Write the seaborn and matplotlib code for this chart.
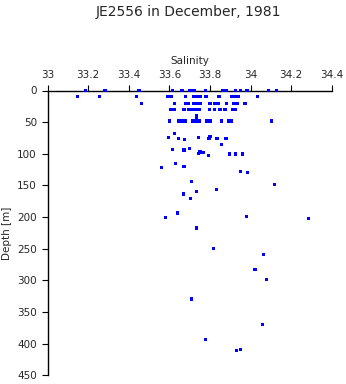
import matplotlib
matplotlib.use("Agg")
import matplotlib.pyplot as plt
import seaborn as sns
import pandas as pd

title = "JE2556 in December, 1981"
x_label = "Salinity"
y_label = "Depth [m]"
x_ticks = [33, 33.2, 33.4, 33.6, 33.8, 34, 34.2, 34.4]
x_tick_labels = ["33", "33.2", "33.4", "33.6", "33.8", "34", "34.2", "34.4"]
y_ticks = [0, 50, 100, 150, 200, 250, 300, 350, 400, 450]

# surface and near-surface levels
sal_0 = [33.186, 33.282, 33.450, 33.614, 33.662, 33.701, 33.721, 33.779, 33.861,
         33.879, 33.927, 33.950, 33.982, 34.087, 34.127]
dep_0 = [0] * len(sal_0)
sal_10 = [33.148, 33.254, 33.437, 33.593, 33.610, 33.680, 33.721, 33.736, 33.753,
          33.780, 33.844, 33.906, 33.923, 33.939, 34.033]
dep_10 = [10] * len(sal_10)
sal_20 = [33.461, 33.626, 33.679, 33.691, 33.721, 33.736, 33.753, 33.800, 33.822,
          33.839, 33.880, 33.918, 33.933, 33.972]
dep_20 = [20] * len(sal_20)
sal_30 = [33.608, 33.622, 33.672, 33.693, 33.709, 33.719, 33.731, 33.746, 33.796,
          33.823, 33.849, 33.874, 33.911, 33.923]
dep_30 = [30] * len(sal_30)
sal_50 = [33.733, 33.735, 33.599, 33.645, 33.659, 33.677, 33.716, 33.733, 33.748,
          33.783, 33.800, 33.857, 33.891, 33.903, 34.104]
dep_50 = [40, 45, 48, 48, 48, 48, 48, 48, 48, 48, 48, 48, 48, 48, 48]
# intermediate levels
sal_mid = [33.624, 33.594, 33.644, 33.673, 33.742, 33.800, 33.795, 33.834, 33.879,
           33.858, 33.614, 33.672, 33.698, 33.751, 33.742, 33.767, 33.792, 33.898,
           33.926, 33.959, 33.560, 33.631, 33.672, 33.949, 33.984]
dep_mid = [68, 74, 76, 77, 74, 73, 76, 76, 76,
           85, 93, 94, 91.5, 97, 100, 98.5, 102.6, 100.5,
           100.5, 100.5, 122, 115, 120.6, 128, 130]
# deep levels
sal_deep = [33.710, 34.117, 33.732, 33.668, 33.833, 33.703, 33.639, 33.580, 33.979,
            34.284, 33.732, 33.816, 34.065, 34.022, 34.077, 33.708, 34.058, 33.777,
            33.931, 33.949]
dep_deep = [143.7, 149, 159.6, 163.4, 156.4, 170.2, 193.4, 200.7, 199.1,
            202.3, 217.2, 249.8, 259.3, 283, 298.9, 329.6, 370.1, 392.9,
            411.3, 409.7]

salinity = sal_0 + sal_10 + sal_20 + sal_30 + sal_50 + sal_mid + sal_deep
depth = dep_0 + dep_10 + dep_20 + dep_30 + dep_50 + dep_mid + dep_deep
df = pd.DataFrame({"Salinity": salinity, "Depth": depth})

sns.set_style("white")
plt.rcParams["font.family"] = ["DejaVu Sans"]

fig = plt.figure(figsize=(3.46, 3.84), dpi=100)
ax = fig.add_axes([47.7 / 346, (384 - 375.3) / 384, 284 / 346, (375.3 - 90.5) / 384])

sns.scatterplot(data=df, x="Salinity", y="Depth", ax=ax, marker="s", s=5.5,
                color="#0000ff", edgecolor="none", linewidth=0, zorder=3,
                clip_on=False)

ax.set_xlim(33, 34.4)
ax.set_ylim(450, 0)
ax.xaxis.set_ticks_position("top")
ax.xaxis.set_label_position("top")
ax.set_xticks(x_ticks)
ax.set_xticklabels(x_tick_labels)
ax.set_yticks(y_ticks)
ax.set_xlabel(x_label, fontsize=7.5, labelpad=4)
ax.set_ylabel(y_label, fontsize=7.5, labelpad=4)
ax.tick_params(axis="both", which="major", length=4.3, width=0.8, color="black",
               labelsize=7.5, pad=3.5, direction="out")
ax.tick_params(axis="x", top=True, bottom=False)
ax.tick_params(axis="y", left=True, right=False)
for side in ["right", "bottom"]:
    ax.spines[side].set_visible(False)
for side in ["top", "left"]:
    ax.spines[side].set_linewidth(1.0)
    ax.spines[side].set_color("black")
ax.grid(False)

fig.text(188 / 346, 1 - 12 / 384, title, ha="center", va="center", fontsize=10)

fig.savefig("out.png", dpi=100)
